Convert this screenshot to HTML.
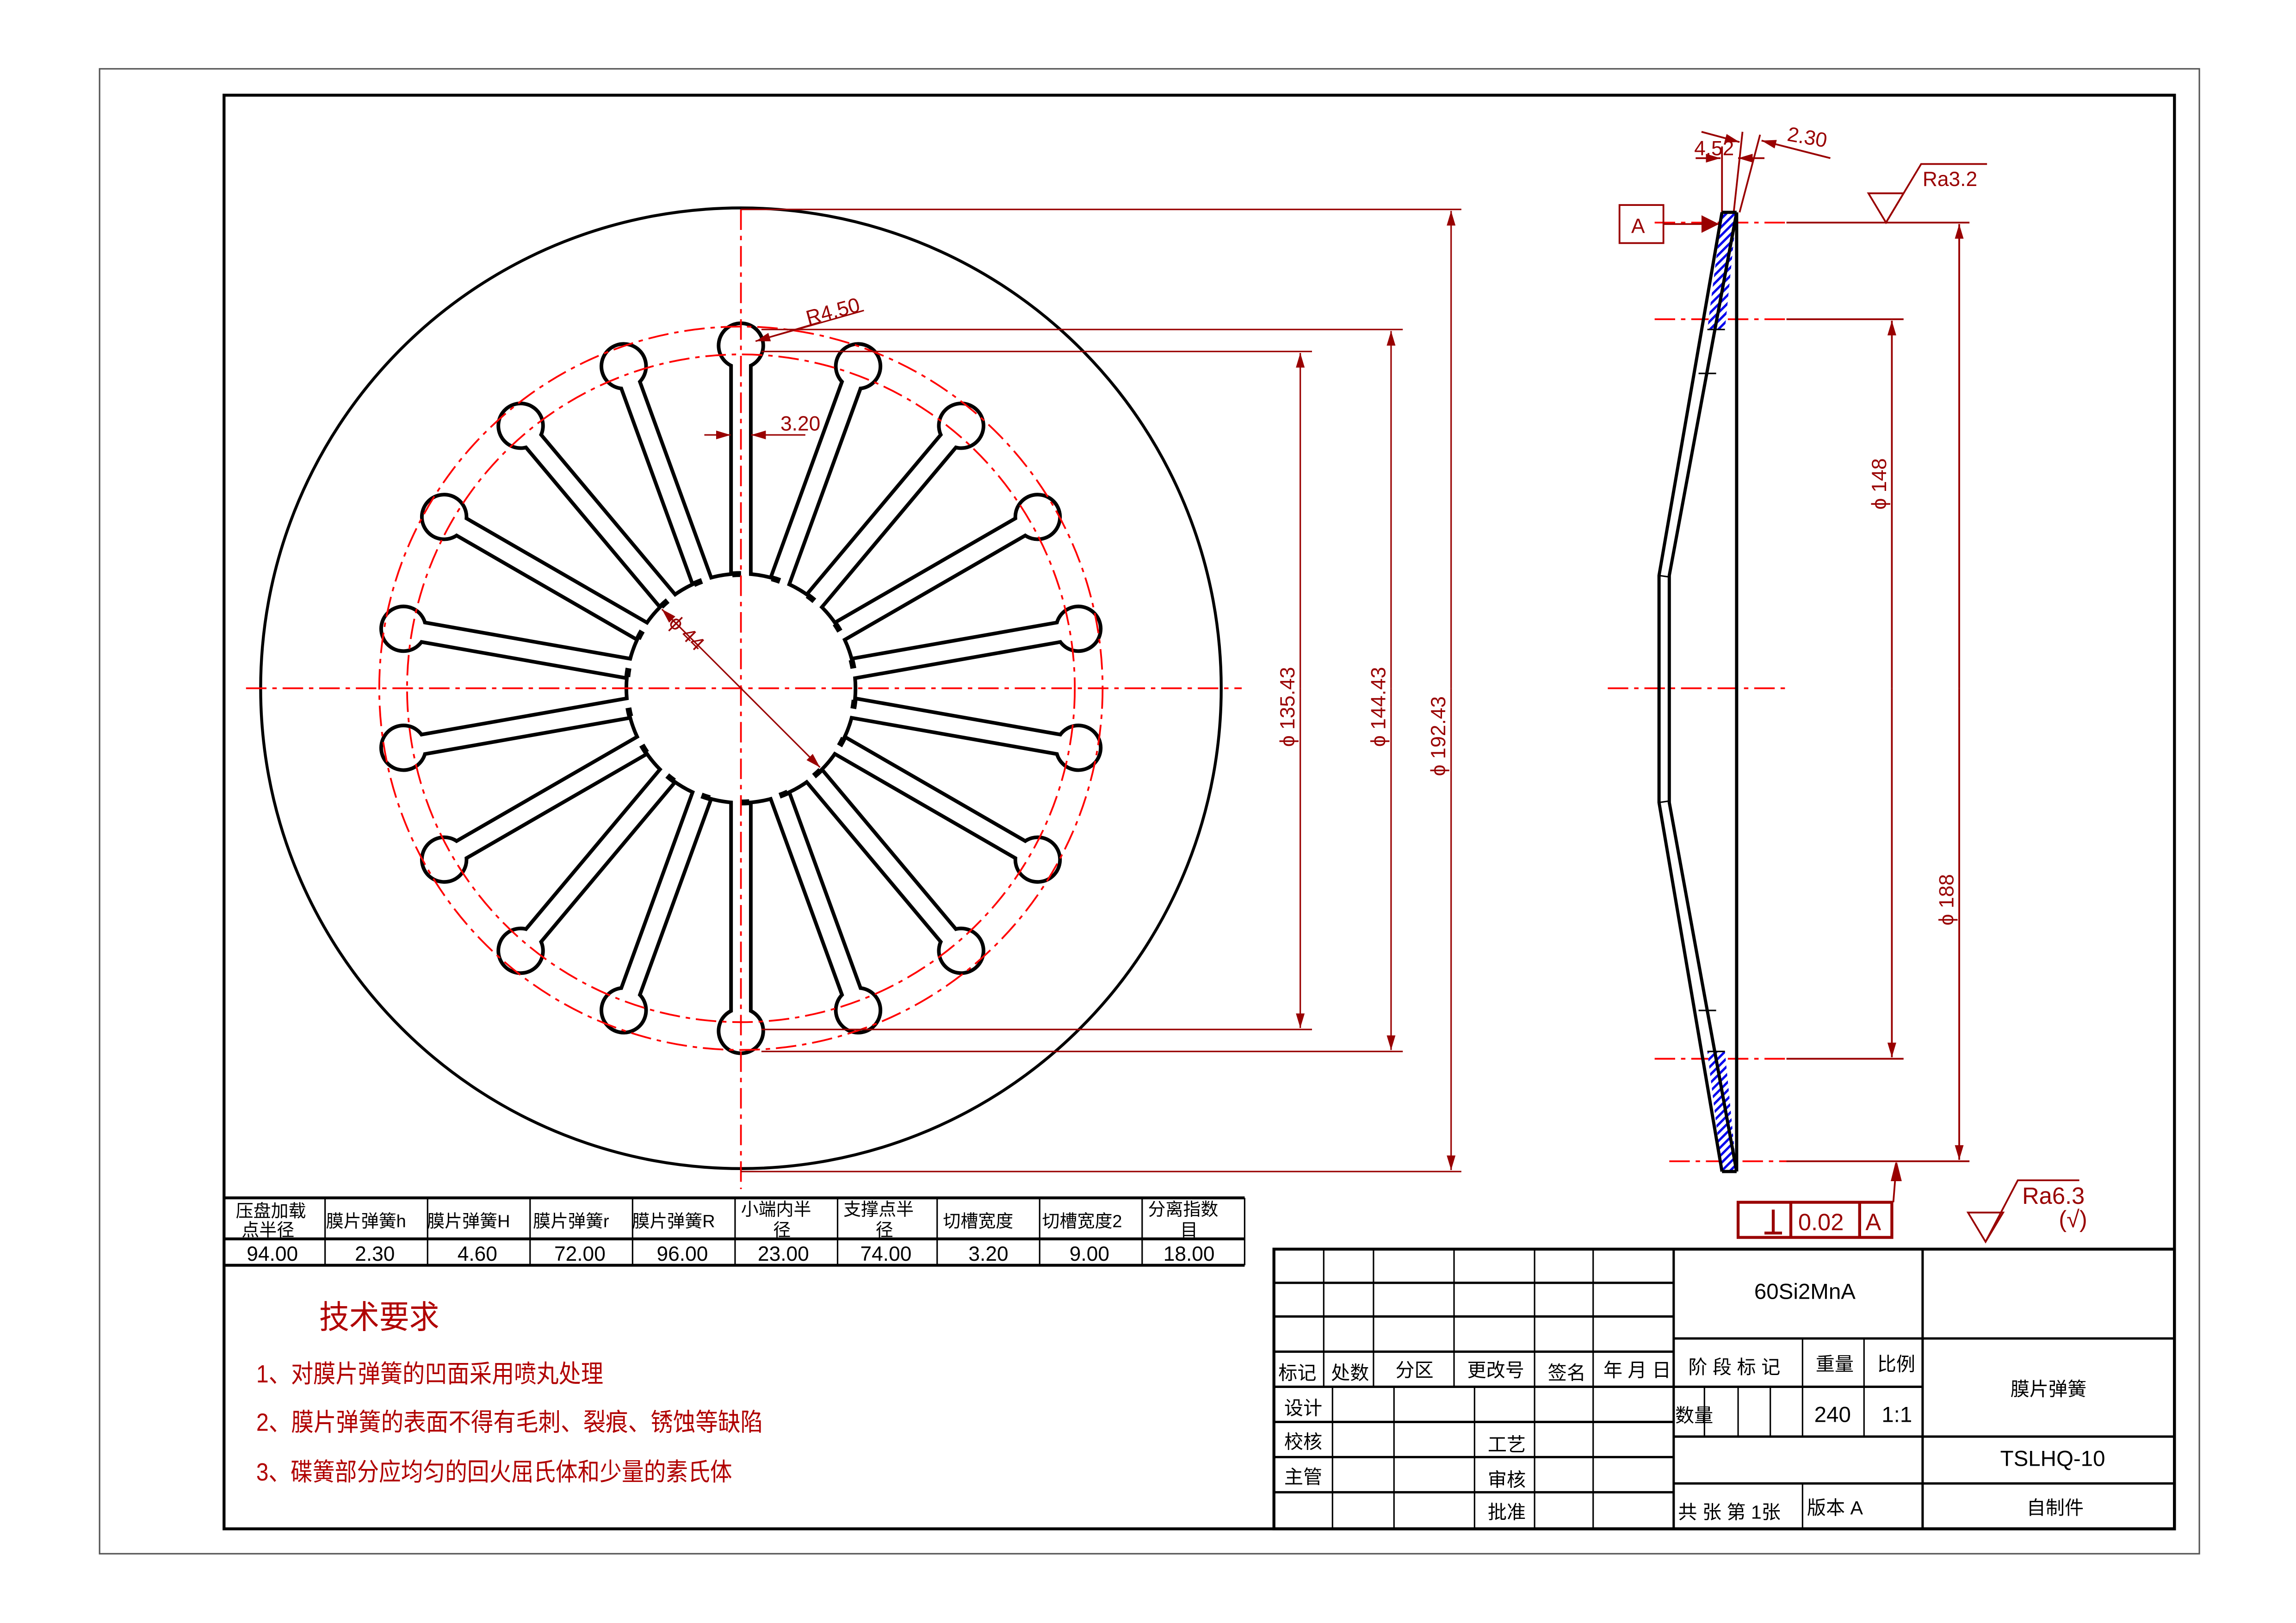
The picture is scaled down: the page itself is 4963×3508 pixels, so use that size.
<!DOCTYPE html>
<html><head><meta charset="utf-8"><style>
html,body{margin:0;padding:0;background:#fff;}
svg{display:block;}
text{font-family:"Liberation Sans","Noto Sans CJK SC",sans-serif;}
</style></head><body>
<svg width="4963" height="3508" viewBox="0 0 1568 1108.3" preserveAspectRatio="none" xmlns="http://www.w3.org/2000/svg">
<defs>
<g id="slotS"><rect x="500.5" y="236" width="11" height="234" fill="none" stroke="#000" stroke-width="5"/><circle cx="506" cy="236" r="14" fill="none" stroke="#000" stroke-width="5"/></g>
<g id="slotF"><rect x="500.5" y="236" width="11" height="234" fill="#fff"/><circle cx="506" cy="236" r="14" fill="#fff"/></g>
<pattern id="hat" width="4" height="4" patternUnits="userSpaceOnUse" patternTransform="rotate(45)"><rect width="4" height="4" fill="#fff"/><rect width="1.6" height="4" fill="#0000ee"/></pattern>
<marker id="ar" viewBox="0 0 10 6" refX="10" refY="3" markerWidth="10" markerHeight="6" orient="auto" markerUnits="userSpaceOnUse"><path d="M0,0 L10,3 L0,6z" fill="#990000"/></marker>
</defs>
<rect width="1568" height="1108.3" fill="#fff"/>
<rect x="68" y="47" width="1434" height="1014" fill="none" stroke="#555" stroke-width="1"/>
<rect x="153" y="65" width="1332" height="979" fill="none" stroke="#000" stroke-width="2"/>

<circle cx="506" cy="470" r="328" fill="none" stroke="#000" stroke-width="2"/>
<g>
<circle cx="506" cy="470" r="77" fill="none" stroke="#000" stroke-width="5"/>
<use href="#slotS" transform="rotate(0 506 470)"/><use href="#slotS" transform="rotate(20 506 470)"/><use href="#slotS" transform="rotate(40 506 470)"/><use href="#slotS" transform="rotate(60 506 470)"/><use href="#slotS" transform="rotate(80 506 470)"/><use href="#slotS" transform="rotate(100 506 470)"/><use href="#slotS" transform="rotate(120 506 470)"/><use href="#slotS" transform="rotate(140 506 470)"/><use href="#slotS" transform="rotate(160 506 470)"/><use href="#slotS" transform="rotate(180 506 470)"/><use href="#slotS" transform="rotate(200 506 470)"/><use href="#slotS" transform="rotate(220 506 470)"/><use href="#slotS" transform="rotate(240 506 470)"/><use href="#slotS" transform="rotate(260 506 470)"/><use href="#slotS" transform="rotate(280 506 470)"/><use href="#slotS" transform="rotate(300 506 470)"/><use href="#slotS" transform="rotate(320 506 470)"/><use href="#slotS" transform="rotate(340 506 470)"/>
<circle cx="506" cy="470" r="77" fill="#fff"/>
<use href="#slotF" transform="rotate(0 506 470)"/><use href="#slotF" transform="rotate(20 506 470)"/><use href="#slotF" transform="rotate(40 506 470)"/><use href="#slotF" transform="rotate(60 506 470)"/><use href="#slotF" transform="rotate(80 506 470)"/><use href="#slotF" transform="rotate(100 506 470)"/><use href="#slotF" transform="rotate(120 506 470)"/><use href="#slotF" transform="rotate(140 506 470)"/><use href="#slotF" transform="rotate(160 506 470)"/><use href="#slotF" transform="rotate(180 506 470)"/><use href="#slotF" transform="rotate(200 506 470)"/><use href="#slotF" transform="rotate(220 506 470)"/><use href="#slotF" transform="rotate(240 506 470)"/><use href="#slotF" transform="rotate(260 506 470)"/><use href="#slotF" transform="rotate(280 506 470)"/><use href="#slotF" transform="rotate(300 506 470)"/><use href="#slotF" transform="rotate(320 506 470)"/><use href="#slotF" transform="rotate(340 506 470)"/>
<circle cx="506" cy="470" r="78" fill="none" stroke="#000" stroke-width="4" stroke-dasharray="6,21.2" stroke-dashoffset="-8"/>
</g>
<g stroke="#ff0000" stroke-width="1.2" fill="none" stroke-dasharray="14,4,3,4">
<circle cx="506" cy="470" r="247"/>
<circle cx="506" cy="470" r="228"/>
<line x1="168" y1="470" x2="848" y2="470"/>
<line x1="506" y1="143" x2="506" y2="812"/>
</g>
<g stroke="#990000" stroke-width="1" fill="none">
<line x1="506" y1="143" x2="998" y2="143"/><line x1="506" y1="800" x2="998" y2="800"/>
<line x1="520" y1="225" x2="958" y2="225"/><line x1="520" y1="718" x2="958" y2="718"/>
<line x1="520" y1="240" x2="896" y2="240"/><line x1="520" y1="703" x2="896" y2="703"/>
<line x1="888" y1="470" x2="888" y2="241" marker-end="url(#ar)"/><line x1="888" y1="470" x2="888" y2="702" marker-end="url(#ar)"/>
<line x1="950" y1="470" x2="950" y2="226" marker-end="url(#ar)"/><line x1="950" y1="470" x2="950" y2="717" marker-end="url(#ar)"/>
<line x1="991" y1="470" x2="991" y2="144" marker-end="url(#ar)"/><line x1="991" y1="470" x2="991" y2="799" marker-end="url(#ar)"/>
<line x1="506" y1="470" x2="452" y2="416" marker-end="url(#ar)"/><line x1="506" y1="470" x2="560" y2="524" marker-end="url(#ar)"/>
<line x1="516" y1="233" x2="590" y2="212"/><line x1="560" y1="220" x2="516" y2="233" marker-end="url(#ar)"/>
<line x1="481" y1="297" x2="499" y2="297" marker-end="url(#ar)"/><line x1="550" y1="297" x2="513" y2="297" marker-end="url(#ar)"/>
</g>
<g fill="#990000" font-size="14">
<text transform="translate(884,510) rotate(-90)">ϕ 135.43</text>
<text transform="translate(946,510) rotate(-90)">ϕ 144.43</text>
<text transform="translate(987,530) rotate(-90)">ϕ 192.43</text>
<text transform="translate(456,426) rotate(45)">ϕ 44</text>
<text transform="translate(552,222) rotate(-15)">R4.50</text>
<text x="533" y="294">3.20</text>
</g>

<g stroke="#ff0000" stroke-width="1.2" stroke-dasharray="14,4,3,4">
<line x1="1130" y1="152" x2="1220" y2="152"/><line x1="1130" y1="218" x2="1220" y2="218"/>
<line x1="1098" y1="470" x2="1222" y2="470"/><line x1="1130" y1="723" x2="1220" y2="723"/><line x1="1140" y1="793" x2="1220" y2="793"/>
</g>
<g stroke="#990000" stroke-width="1.2" fill="none">
<line x1="1220" y1="152" x2="1345" y2="152"/><line x1="1220" y1="218" x2="1300" y2="218"/>
<line x1="1220" y1="723" x2="1300" y2="723"/><line x1="1220" y1="793" x2="1345" y2="793"/>
<line x1="1292" y1="470" x2="1292" y2="219" marker-end="url(#ar)"/><line x1="1292" y1="470" x2="1292" y2="722" marker-end="url(#ar)"/>
<line x1="1338" y1="470" x2="1338" y2="153" marker-end="url(#ar)"/><line x1="1338" y1="470" x2="1338" y2="792" marker-end="url(#ar)"/>
<line x1="1176" y1="100" x2="1176" y2="225"/>
<line x1="1158" y1="108" x2="1175" y2="108" marker-end="url(#ar)"/><line x1="1205" y1="108" x2="1187" y2="108" marker-end="url(#ar)"/>
<line x1="1184" y1="145" x2="1190" y2="90"/><line x1="1188" y1="145" x2="1202" y2="92"/>
<line x1="1162" y1="90" x2="1188" y2="97" marker-end="url(#ar)"/><line x1="1250" y1="108" x2="1203" y2="96" marker-end="url(#ar)"/>
<rect x="1106" y="140" width="30" height="26"/>
<line x1="1136" y1="153" x2="1174" y2="153"/>
<path d="M1276,132 L1300,132 L1288,152 Z"/><path d="M1288,152 L1312,112 L1357,112"/>
</g>
<path d="M1174,153 L1162,147 L1162,159 Z" fill="#990000"/>
<g fill="#990000" font-size="14">
<text x="1114" y="159">A</text>
<text x="1157" y="106">4.52</text>
<text x="1220" y="96" transform="rotate(10 1220 96)">2.30</text>
<text x="1313" y="127">Ra3.2</text>
<text transform="translate(1288,348) rotate(-90)">ϕ 148</text>
<text transform="translate(1334,632) rotate(-90)">ϕ 188</text>
</g>
<path d="M1176,145 L1186,145 L1178,225 L1166,225 Z" fill="url(#hat)"/>
<path d="M1166,718 L1178,718 L1186,800 L1176,800 Z" fill="url(#hat)"/>
<g stroke="#000" stroke-width="2.2" fill="none">
<path d="M1176,145 L1133,393 L1133,548 L1176,800"/>
<path d="M1186,145 L1140,393 L1140,548 L1186,800"/>
<line x1="1186" y1="145" x2="1186" y2="800"/>
<line x1="1176" y1="145" x2="1186" y2="145"/><line x1="1176" y1="800" x2="1186" y2="800"/>
</g>
<g stroke="#000" stroke-width="1">
<line x1="1166" y1="225" x2="1178" y2="225"/><line x1="1160" y1="255" x2="1172" y2="255"/>
<line x1="1133" y1="393" x2="1140" y2="394"/><line x1="1133" y1="548" x2="1140" y2="547"/>
<line x1="1160" y1="690" x2="1172" y2="690"/><line x1="1166" y1="718" x2="1178" y2="718"/>
</g>

<g stroke="#990000" stroke-width="2" fill="none">
<rect x="1187" y="821" width="105" height="24"/>
<line x1="1223" y1="821" x2="1223" y2="845"/><line x1="1270" y1="821" x2="1270" y2="845"/>
<line x1="1205" y1="842" x2="1217" y2="842"/><line x1="1211" y1="826" x2="1211" y2="842"/>
</g>
<g stroke="#990000" stroke-width="1.2" fill="none">
<line x1="1293" y1="821" x2="1295" y2="796"/><path d="M1295,794 L1292,806 L1298,806 Z" fill="#990000"/>
<path d="M1344,828 L1368,828 L1356,848 Z"/><path d="M1356,848 L1378,806 L1420,806"/>
</g>
<g fill="#990000" font-size="16">
<text x="1228" y="840">0.02</text><text x="1274" y="840">A</text>
<text x="1381" y="822">Ra6.3</text><text x="1406" y="838">(√)</text>
</g>

<g stroke="#000" fill="none">
<line x1="153" y1="818" x2="850" y2="818" stroke-width="2"/>
<line x1="153" y1="846" x2="850" y2="846" stroke-width="2"/>
<line x1="153" y1="864" x2="850" y2="864" stroke-width="2"/>
<g stroke-width="1">
<line x1="222" y1="818" x2="222" y2="864"/><line x1="292" y1="818" x2="292" y2="864"/><line x1="362" y1="818" x2="362" y2="864"/><line x1="432" y1="818" x2="432" y2="864"/><line x1="502" y1="818" x2="502" y2="864"/><line x1="572" y1="818" x2="572" y2="864"/><line x1="640" y1="818" x2="640" y2="864"/><line x1="710" y1="818" x2="710" y2="864"/><line x1="780" y1="818" x2="780" y2="864"/><line x1="850" y1="818" x2="850" y2="864"/>
</g></g>
<g font-size="12" fill="#000" text-anchor="middle">
<text x="185" y="831">压盘加载</text><text x="183" y="844">点半径</text>
<text x="250" y="838">膜片弹簧h</text><text x="320" y="838">膜片弹簧H</text><text x="390" y="838">膜片弹簧r</text><text x="460" y="838">膜片弹簧R</text>
<text x="530" y="830">小端内半</text><text x="534" y="844">径</text>
<text x="600" y="830">支撑点半</text><text x="604" y="844">径</text>
<text x="668" y="838">切槽宽度</text><text x="739" y="838">切槽宽度2</text>
<text x="808" y="830">分离指数</text><text x="812" y="844">目</text>
</g>
<g font-size="14" fill="#000" text-anchor="middle">
<text x="186" y="861">94.00</text><text x="256" y="861">2.30</text><text x="326" y="861">4.60</text><text x="396" y="861">72.00</text><text x="466" y="861">96.00</text><text x="535" y="861">23.00</text><text x="605" y="861">74.00</text><text x="675" y="861">3.20</text><text x="744" y="861">9.00</text><text x="812" y="861">18.00</text>
</g>

<g fill="#b00000">
<text x="218" y="907" font-size="22" textLength="82" lengthAdjust="spacingAndGlyphs">技术要求</text>
<text x="175" y="944" font-size="17" textLength="237" lengthAdjust="spacingAndGlyphs">1、对膜片弹簧的凹面采用喷丸处理</text>
<text x="175" y="977" font-size="17" textLength="346" lengthAdjust="spacingAndGlyphs">2、膜片弹簧的表面不得有毛刺、裂痕、锈蚀等缺陷</text>
<text x="175" y="1011" font-size="17" textLength="325" lengthAdjust="spacingAndGlyphs">3、碟簧部分应均匀的回火屈氏体和少量的素氏体</text>
</g>

<g stroke="#000" fill="none">
<rect x="870" y="853" width="615" height="191" stroke-width="2"/>
<g stroke-width="1.6">
<line x1="870" y1="876" x2="1143" y2="876"/><line x1="870" y1="899" x2="1143" y2="899"/><line x1="870" y1="923" x2="1143" y2="923"/><line x1="870" y1="947" x2="1143" y2="947"/><line x1="870" y1="971" x2="1143" y2="971"/><line x1="870" y1="995" x2="1143" y2="995"/><line x1="870" y1="1019" x2="1143" y2="1019"/>
<line x1="1143" y1="853" x2="1143" y2="1044"/><line x1="1313" y1="853" x2="1313" y2="1044"/>
<line x1="1143" y1="914" x2="1485" y2="914"/><line x1="1143" y1="947" x2="1313" y2="947"/><line x1="1143" y1="981" x2="1485" y2="981"/><line x1="1143" y1="1013" x2="1485" y2="1013"/>
</g>
<g stroke-width="1">
<line x1="904" y1="853" x2="904" y2="947"/><line x1="938" y1="853" x2="938" y2="947"/><line x1="993" y1="853" x2="993" y2="947"/><line x1="1048" y1="853" x2="1048" y2="1044"/><line x1="1088" y1="853" x2="1088" y2="1044"/>
<line x1="910" y1="947" x2="910" y2="1044"/><line x1="952" y1="947" x2="952" y2="1044"/><line x1="1007" y1="947" x2="1007" y2="1044"/>
<line x1="1231" y1="914" x2="1231" y2="981"/><line x1="1273" y1="914" x2="1273" y2="981"/>
<line x1="1164" y1="947" x2="1164" y2="981"/><line x1="1187" y1="947" x2="1187" y2="981"/><line x1="1209" y1="947" x2="1209" y2="981"/>
<line x1="1231" y1="1013" x2="1231" y2="1044"/>
</g></g>
<g fill="#000" font-size="13">
<text x="873" y="942">标记</text><text x="909" y="942">处数</text><text x="953" y="940">分区</text><text x="1002" y="940">更改号</text><text x="1057" y="942">签名</text><text x="1095" y="940">年 月 日</text>
<text x="877" y="966">设计</text><text x="877" y="989">校核</text><text x="877" y="1013">主管</text>
<text x="1016" y="991">工艺</text><text x="1016" y="1015">审核</text><text x="1016" y="1037">批准</text>
<text x="1153" y="938">阶 段 标 记</text><text x="1240" y="936">重量</text><text x="1282" y="936">比例</text>
<text x="1144" y="971">数量</text>
<text x="1146" y="1037">共  张    第 1张</text><text x="1234" y="1034">版本  A</text>
<text x="1373" y="953">膜片弹簧</text><text x="1384" y="1034">自制件</text>
</g>
<g fill="#000" font-size="15">
<text x="1198" y="887">60Si2MnA</text>
<text x="1239" y="971">240</text><text x="1285" y="971">1:1</text>
<text x="1366" y="1001">TSLHQ-10</text>
</g>
</svg>
</body></html>
